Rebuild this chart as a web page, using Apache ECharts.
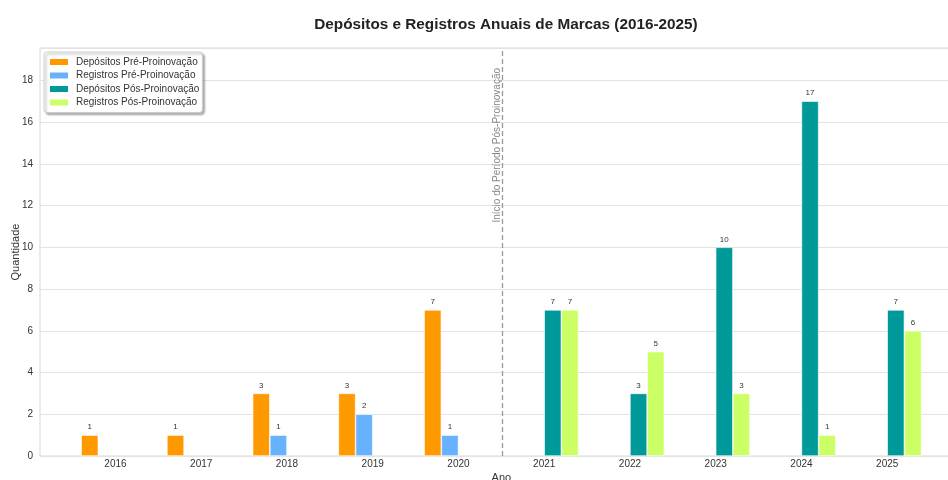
<!DOCTYPE html>
<html>
<head>
<meta charset="utf-8">
<script src="https://cdn.jsdelivr.net/npm/echarts@6/dist/echarts.min.js"></script>
<style>html,body{margin:0;padding:0;background:#fff}#c{width:948px;height:480px}</style>
</head>
<body>
<div id="c"></div>
<script>
const years = ['2016','2017','2018','2019','2020','2021','2022','2023','2024','2025'];
const depPre = [1, 1, 3, 3, 7, null, null, null, null, null];
const regPre = [null, null, 1, 2, 1, null, null, null, null, null];
const depPos = [null, null, null, null, null, 7, 3, 10, 17, 7];
const regPos = [null, null, null, null, null, 7, 5, 3, 1, 6];
const yTicks = [0, 2, 4, 6, 8, 10, 12, 14, 16, 18];
const seriesNames = ['Depósitos Pré-Proinovação','Registros Pré-Proinovação','Depósitos Pós-Proinovação','Registros Pós-Proinovação'];
const colors = ['#FF9900','#66B2FF','#009999','#CCFF66'];
const periodStart = 4.5;
const periodLabel = 'Início do Período Pós-Proinovação';

const FONT = 'Liberation Sans, Arial, sans-serif';
const YMAX = 19.55;
const chart = echarts.init(document.getElementById('c'));
const barW = 17.15;
function barSeries(i, data) {
  return {
    name: seriesNames[i], type: 'bar', xAxisIndex: 1, yAxisIndex: 1,
    data: data, barWidth: barW, barGap: '0%',
    itemStyle: { color: colors[i], borderColor: '#ffffff', borderWidth: 0.6 },
    label: { show: true, position: 'top', distance: 4, fontSize: 8, color: '#333', fontFamily: FONT },
    emphasis: { disabled: true }
  };
}
chart.setOption({
  animation: false,
  textStyle: { fontFamily: FONT },
  title: {
    text: 'Depósitos e Registros Anuais de Marcas (2016-2025)',
    left: 501, top: 12, textAlign: 'center',
    textStyle: { fontSize: 15.3, fontWeight: 'bold', color: '#222', fontFamily: FONT }
  },
  legend: {
    orient: 'vertical', left: 44, top: 52,
    data: seriesNames,
    icon: 'rect', itemWidth: 20, itemHeight: 8, itemGap: 1.5,
    padding: [4, 3, 4, 4],
    backgroundColor: '#fff', borderColor: '#cccccc', borderWidth: 1, borderRadius: 3,
    shadowColor: 'rgba(0,0,0,0.3)', shadowOffsetX: 2, shadowOffsetY: 2, shadowBlur: 2,
    textStyle: { fontSize: 10, color: '#333', lineHeight: 12, padding: [0, 0, 0, 2], fontFamily: FONT }
  },
  grid: [
    { left: 40, top: 48, width: 924, height: 408, show: true, borderColor: '#d6d6d6', borderWidth: 1, backgroundColor: '#fff', outerBoundsMode: 'none', containLabel: false },
    { left: 72.6, top: 48, width: 857.5, height: 408, outerBoundsMode: 'none', containLabel: false }
  ],
  xAxis: [
    { type: 'value', gridIndex: 0, min: -0.89, max: 9.89, show: false },
    { type: 'category', gridIndex: 1, data: years,
      axisLine: { show: false }, axisTick: { show: false },
      axisLabel: { fontSize: 10, color: '#333', margin: 3, fontFamily: FONT },
      name: 'Ano', nameLocation: 'middle', nameGap: 16, nameMoveOverlap: false,
      nameTextStyle: { fontSize: 11, color: '#333', fontFamily: FONT } }
  ],
  yAxis: [
    { type: 'value', gridIndex: 0, min: 0, max: YMAX, interval: 2,
      axisLine: { show: false }, axisTick: { show: false },
      splitLine: { show: true, lineStyle: { color: '#e3e3e3', width: 1 } },
      axisLabel: { fontSize: 10, color: '#333', margin: 7, showMaxLabel: false, fontFamily: FONT,
        formatter: v => yTicks.includes(v) ? String(v) : '' },
      name: 'Quantidade', nameLocation: 'middle', nameGap: 19, nameMoveOverlap: false,
      nameTextStyle: { fontSize: 11, color: '#333', fontFamily: FONT } },
    { type: 'value', gridIndex: 1, min: 0, max: YMAX, show: false, splitLine: { show: false } }
  ],
  series: [
    barSeries(0, depPre), barSeries(1, regPre), barSeries(2, depPos), barSeries(3, regPos),
    { type: 'line', xAxisIndex: 0, yAxisIndex: 0, data: [], silent: true,
      markLine: {
        silent: true, symbol: ['none', 'none'],
        lineStyle: { color: '#999', type: [5, 3], width: 1.3 },
        label: { show: true, formatter: periodLabel, position: 'insideEndTop', distance: [20, 0],
          color: '#888', fontSize: 10, fontFamily: FONT },
        data: [{ xAxis: periodStart }]
      } }
  ]
});
</script>
</body>
</html>
